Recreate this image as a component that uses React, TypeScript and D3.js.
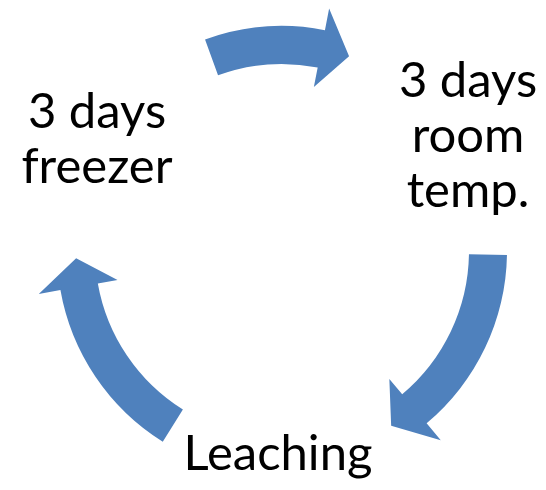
import React, { useEffect, useRef } from 'react';
import * as d3 from 'd3';

// cycle steps, clockwise from the top right
const stepLabels = [
  ['3 days', 'room', 'temp.'],
  ['Leaching'],
  ['3 days', 'freezer'],
];
// arrow angles in degrees (0 = right, clockwise): tail, head base, tip
const arrowTail = [-110, 1, 122];
const arrowBase = [-79, 50, 170];
const arrowTip = [-71, 58, 178];

const width = 546;
const height = 490;

export default function App() {
  const ref = useRef<SVGSVGElement>(null);

  useEffect(() => {
    document.body.style.margin = '0';
    const svg = d3.select(ref.current);
    svg.selectAll('*').remove();

    const cx = 282, cy = 251;
    const rIn = 187, rOut = 225;
    const rMid = (rIn + rOut) / 2;
    const headIn = 167, headOut = 247;
    const rad = (a: number) => (a * Math.PI) / 180;
    const pt = (r: number, a: number): [number, number] => [
      cx + r * Math.cos(rad(a)),
      cy + r * Math.sin(rad(a)),
    ];

    const arrowPath = (i: number) => {
      const t = arrowTail[i], b = arrowBase[i], tip = arrowTip[i];
      const p = d3.path();
      const s = pt(rOut, t);
      p.moveTo(s[0], s[1]);
      p.arc(cx, cy, rOut, rad(t), rad(b), false);
      let q = pt(headOut, b); p.lineTo(q[0], q[1]);
      q = pt(rMid, tip); p.lineTo(q[0], q[1]);
      q = pt(headIn, b); p.lineTo(q[0], q[1]);
      q = pt(rIn, b); p.lineTo(q[0], q[1]);
      p.arc(cx, cy, rIn, rad(b), rad(t), true);
      p.closePath();
      return p.toString();
    };

    svg.append('g')
      .selectAll('path')
      .data(d3.range(arrowTail.length))
      .enter()
      .append('path')
      .attr('d', (i) => arrowPath(i))
      .attr('fill', '#4f81bd');

    // label positions: center x and first baseline
    const labelPos = [
      { x: 468, y: 97 },
      { x: 278, y: 470 },
      { x: 97, y: 128 },
    ];
    const lineH = 55;

    const texts = svg.append('g')
      .selectAll('text')
      .data(stepLabels)
      .enter()
      .append('text')
      .attr('text-anchor', 'middle')
      .attr('font-family', 'Lato, "Open Sans", sans-serif')
      .attr('font-size', 49)
      .attr('fill', '#000');

    texts.each(function (lines, i) {
      const el = d3.select(this);
      lines.forEach((line, j) => {
        el.append('tspan')
          .attr('x', labelPos[i].x)
          .attr('y', labelPos[i].y + j * lineH)
          .text(line);
      });
    });
  }, []);

  return <svg ref={ref} width={width} height={height} style={{ display: 'block' }} />;
}
